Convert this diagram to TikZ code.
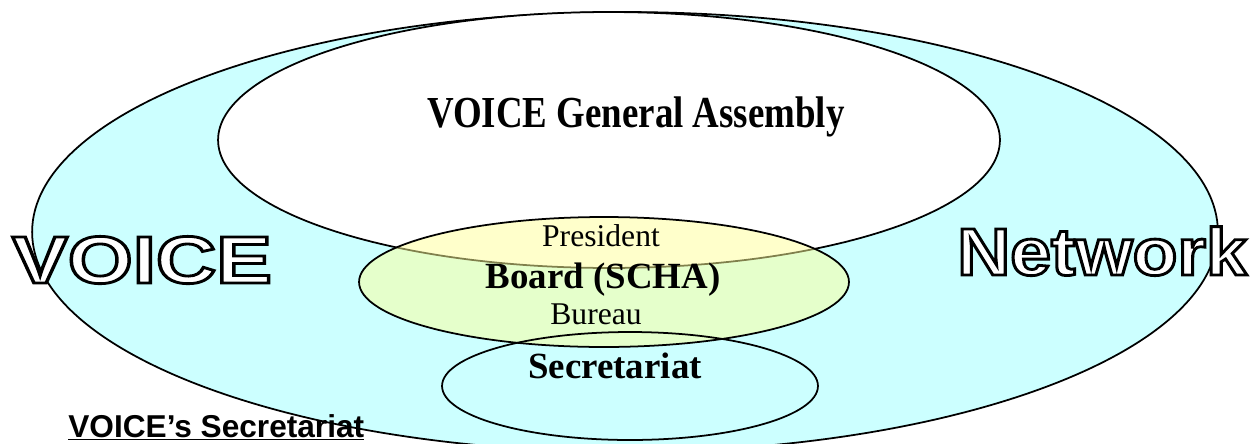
\documentclass[tikz,border=0pt]{standalone}
\usepackage{fontspec}
\setmainfont{Liberation Serif}
\setsansfont{Liberation Sans}
\usepackage{tikz}
\usepackage{xcolor}
\usetikzlibrary{shapes.geometric}
\definecolor{net-cyan}{HTML}{CCFFFF}
\definecolor{board-yellow}{HTML}{FFFF99}
\newcommand{\hollowtext}[1]{\special{pdf:literal direct 2 Tr 0 G 1.6 w}#1\special{pdf:literal direct 0 Tr}}
\tikzset{
    oval/.style = {draw=black, line width=1pt, ellipse, inner sep=0pt},
    oval-title/.style = {font=\bfseries\fontsize{21}{25}\selectfont, inner sep=0pt, anchor=base},
    oval-label/.style = {font=\fontsize{18}{22}\selectfont, inner sep=0pt, anchor=base},
    hollow-word/.style = {font=\sffamily\bfseries\fontsize{38}{44}\selectfont, text=white, inner sep=0pt, anchor=base},
}

\begin{document}
\begin{tikzpicture}[x=0.02cm, y=-0.02cm]
\useasboundingbox (0,0) rectangle (1260,443);
\clip (0,0) rectangle (1260,443);
\node [oval, fill=net-cyan, minimum width=23.72cm, minimum height=8.8cm] (network) at (625,232) {};
\node [oval, fill=white, minimum width=15.64cm, minimum height=5.12cm] (assembly) at (609,140) {};
\node [oval, fill=board-yellow, fill opacity=0.5, minimum width=9.8cm, minimum height=2.6cm] (board) at (604,282) {};
\node [oval, minimum width=7.52cm, minimum height=2.16cm] (secretariat) at (630,386) {};

\node [oval-title] (assembly-title) at (636,127) {\scalebox{1}[1.2]{VOICE General Assembly}};
\node [oval-label] (president) at (601,246) {President};
\node [oval-title] (board-title) at (603,288) {Board (SCHA)};
\node [oval-label] (bureau) at (596,324) {Bureau};
\node [oval-title] (secretariat-title) at (615,378) {Secretariat};

\node [hollow-word] (voice-word) at (142,283) {\scalebox{1.25}[1]{\hollowtext{VOICE}}};
\node [hollow-word] (network-word) at (1102,275) {\scalebox{1.1}[1]{\hollowtext{Network}}};

\node [font=\sffamily\bfseries\fontsize{18}{21}\selectfont, anchor=base west, inner sep=0pt] (caption) at (68,437) {\underline{VOICE’s Secretariat}};
\end{tikzpicture}
\end{document}
